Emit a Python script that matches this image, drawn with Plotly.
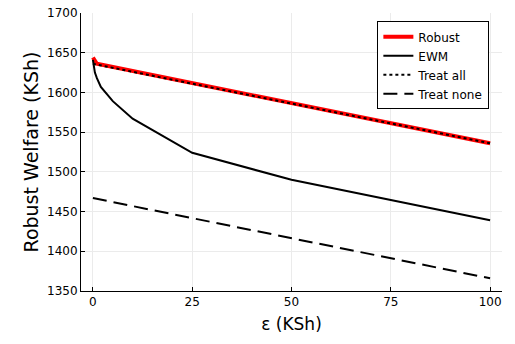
import plotly.graph_objects as go

# data
eps_robust = [0, 0.5, 1, 100]
robust = [1644, 1639, 1636, 1536]

eps_ewm = [0, 0.5, 1, 2, 5, 10, 25, 50, 100]
ewm = [1641, 1625, 1618, 1607, 1589, 1567, 1524, 1490, 1439]

eps_line = [0, 100]
treat_all = [1636, 1536]
treat_none = [1467, 1366]

fig = go.Figure()

fig.add_trace(go.Scatter(x=eps_robust, y=robust, mode="lines", name="Robust",
                         line=dict(color="red", width=4)))
fig.add_trace(go.Scatter(x=eps_ewm, y=ewm, mode="lines", name="EWM",
                         line=dict(color="black", width=2)))
fig.add_trace(go.Scatter(x=eps_line, y=treat_all, mode="lines", name="Treat all",
                         line=dict(color="black", width=2, dash="dot")))
fig.add_trace(go.Scatter(x=eps_line, y=treat_none, mode="lines", name="Treat none",
                         line=dict(color="black", width=2, dash="14px,7px")))

fig.update_layout(
    width=515, height=344,
    plot_bgcolor="white", paper_bgcolor="white",
    margin=dict(l=81, r=13, t=13, b=53),
    font=dict(family="DejaVu Sans", color="black", size=12),
    legend=dict(x=0.97, y=0.97, xanchor="right", yanchor="top",
                bordercolor="black", borderwidth=1, bgcolor="white",
                font=dict(size=12), tracegroupgap=0, itemwidth=30),
    xaxis=dict(
        title=dict(text="ε (KSh)", font=dict(size=17), standoff=9),
        range=[-3, 103], tickvals=[0, 25, 50, 75, 100],
        showgrid=True, gridcolor="#ebebeb", gridwidth=1,
        showline=True, linecolor="black", linewidth=1,
        ticks="inside", ticklen=4, tickcolor="black",
        zeroline=False, automargin=False,
    ),
    yaxis=dict(
        title=dict(text="Robust Welfare (KSh)", font=dict(size=19), standoff=3),
        range=[1350, 1700], tickvals=[1350, 1400, 1450, 1500, 1550, 1600, 1650, 1700],
        showgrid=True, gridcolor="#ebebeb", gridwidth=1,
        showline=True, linecolor="black", linewidth=1,
        ticks="inside", ticklen=4, tickcolor="black",
        zeroline=False, automargin=False,
    ),
)

# drop the browser's default 8px body margin so the figure sits at the page corner
fig.write_html("out.html", config={"displayModeBar": False},
               post_script="document.body.style.margin='0';")
